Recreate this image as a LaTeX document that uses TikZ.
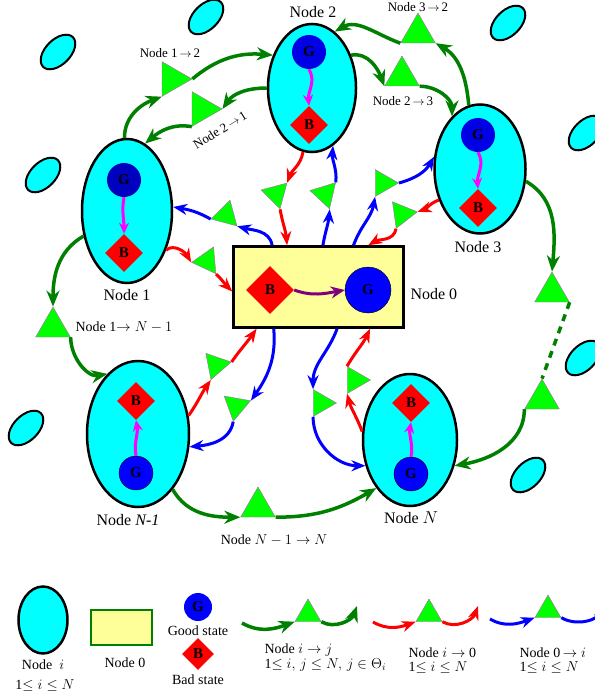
\documentclass[tikz,border=0pt]{standalone}
\usepackage{fontspec}
\setmainfont{Liberation Serif}
\usepackage{amssymb}
\usepackage{amsmath}
\usetikzlibrary{shapes.geometric}
\usetikzlibrary{arrows.meta}
\definecolor{aqua}{RGB}{0,255,255}
\definecolor{pink}{RGB}{255,0,255}
\definecolor{lime}{RGB}{0,255,0}
\definecolor{darkgreen}{RGB}{0,128,0}
\definecolor{paleyellow}{RGB}{255,255,153}

\begin{document}
\begin{tikzpicture}[x=1pt, y=1pt,
  blob/.style={ellipse, fill=aqua, draw=black, line width=2pt, minimum width=42pt, minimum height=25pt, inner sep=0pt, rotate=45},
  pc/.style={ellipse, fill=aqua, draw=black, line width=2.5pt, inner sep=0pt},
  good/.style={circle, fill=blue, inner sep=0pt, minimum size=34pt, font=\fontsize{15}{15}\selectfont\bfseries},
  bad/.style={diamond, fill=red, inner sep=0pt, minimum size=38pt, font=\fontsize{15}{15}\selectfont\bfseries},
  tri/.style={regular polygon, regular polygon sides=3, fill=lime, draw=violet!60, line width=0.4pt, inner sep=0pt, minimum size=40pt},
  stri/.style={tri, minimum size=31pt},
  gline/.style={draw=darkgreen, line width=3.5pt, -{Stealth[length=16pt,width=13pt]}},
  rline/.style={draw=red, line width=3pt, -{Stealth[length=14pt,width=11pt]}},
  bline/.style={draw=blue, line width=3pt, -{Stealth[length=14pt,width=11pt]}},
  mline/.style={draw=pink, line width=3pt, -{Stealth[length=11pt,width=10pt]}},
  nlab/.style={font=\fontsize{16}{18}\selectfont},
  elab/.style={font=\fontsize{13}{15}\selectfont},
  leg/.style={font=\fontsize{14}{16}\selectfont}]

\useasboundingbox (0,0) rectangle (594,-698);

% background nodes
\node[blob] (e1) at (58,-52) {};
\node[blob] (e2) at (206,-17) {};
\node[blob] (e3) at (43,-175) {};
\node[blob] (e4) at (508,-23) {};
\node[blob] (e5) at (586,-133) {};
\node[blob] (e6) at (583,-358) {};
\node[blob] (e7) at (26,-428) {};
\node[blob] (e8) at (528,-475) {};

% nodes 1, 2, 3, N-1, N and 0
\node[pc, minimum width=90pt, minimum height=144pt] (n1) at (127,-211) {};
\node[pc, minimum width=88pt, minimum height=128pt] (n2) at (312,-88) {};
\node[pc, minimum width=91pt, minimum height=129pt] (n3) at (480,-169) {};
\node[pc, minimum width=102pt, minimum height=146pt] (nm) at (138,-434) {};
\node[pc, minimum width=94pt, minimum height=132pt] (nn) at (410,-440) {};
\node[draw=black, fill=paleyellow, line width=2.5pt, minimum width=170pt, minimum height=81pt] (n0) at (318.5,-287) {};

\node[good, fill=blue!75!black] (g1) at (124,-180) {G};
\node[bad] (b1) at (124,-253) {B};
\node[good, fill=blue!90!black] (g2) at (309,-52) {G};
\node[bad] (b2) at (309,-125) {B};
\node[good, fill=blue!90!black] (g3) at (478,-135) {G};
\node[bad] (b3) at (478,-208) {B};
\node[bad] (bm) at (136,-401) {B};
\node[good, draw=black, thin] (gm) at (136,-473) {G};
\node[bad] (bn) at (411,-403) {B};
\node[good, draw=black, thin] (gn) at (411,-474) {G};
\node[bad, minimum size=48pt] (b0) at (270,-290) {B};
\node[good, draw=black, thin, minimum size=46pt] (g0) at (368,-290) {G};

\draw[mline] (g1.south) to[out=-100,in=90] (b1.north);
\draw[mline] (g2.south) to[out=-60,in=95] (b2.north);
\draw[mline] (g3.south) to[out=-60,in=95] (b3.north);
\draw[mline] (gm.north) to[out=100,in=-80] (bm.south);
\draw[mline] (gn.north) to[out=80,in=-100] (bn.south);
\draw[draw=violet, line width=3pt, -{Stealth[length=14pt,width=12pt]}] (b0.east) to[out=-20,in=190] (g0.west);

\node[nlab] (l1) at (127,-295) {Node 1};
\node[nlab] (l2) at (313,-12) {Node 2};
\node[nlab] (l3) at (478,-247) {Node 3};
\node[nlab] (lm) at (128,-520) {Node \textit{N-1}};
\node[nlab] (ln) at (411,-518) {Node $N$};
\node[nlab, anchor=west] (l0) at (407,-294) {Node 0};

%%%%%%%%%%%% triangles
\node[tri, rotate=-90] (t12) at (172,-79) {};
\node[tri, rotate=-90] (t21) at (202,-109) {};
\node[tri] (t23) at (402,-76) {};
\node[tri] (t32) at (418,-33) {};
\node[tri] (t1m) at (53,-327) {};
\node[tri] (t3a) at (552,-292) {};
\node[tri] (t3b) at (542,-399) {};
\node[tri] (tmn) at (258,-507) {};
\node[stri, rotate=-15] (t01) at (226,-215) {};
\node[stri, rotate=-25] (t10) at (207,-261) {};
\node[stri, rotate=-45] (t20) at (276,-194) {};
\node[stri, rotate=-163] (t02) at (325,-194) {};
\node[stri, rotate=-90] (t03) at (383,-183) {};
\node[stri, rotate=-82] (t30) at (402,-214) {};
\node[stri, rotate=-79] (tm0) at (216,-365) {};
\node[stri, rotate=-70] (t0m) at (236,-406) {};
\node[stri, rotate=-90] (t0n) at (321,-403) {};
\node[stri, rotate=-90] (tn0) at (355,-380) {};

%%%%%%%%%%%% node i -> node j
\draw[gline] (n1.92) to[out=90,in=200] (t12.corner 3);
\draw[gline] (t12.corner 1) to[out=40,in=175] (n2.140);
\draw[gline] (n2.180) to[out=180,in=55] (t21.corner 1);
\draw[gline] (t21.corner 3) to[out=170,in=40] (n1.75);
\draw[gline] (n2.40) to[out=10,in=110] (t23.corner 2);
\draw[gline] (t23.corner 3) to[out=0,in=90] (n3.118);
\draw[gline] (n3.100) to[out=95,in=-30] (t32.corner 3);
\draw[gline] (t32.corner 2) to[out=160,in=30] (n2.68);
\draw[gline] (n3.-15) to[out=-30,in=85] (t3a.corner 1);
\draw[gline, -, dash pattern=on 7pt off 6pt] (t3a.corner 3) -- (t3b.corner 1);
\draw[gline] (t3b.corner 2) to[out=-90,in=10] (nn.-30);
\draw[gline] (n1.-150) to[out=210,in=90] (t1m.corner 1);
\draw[gline] (t1m.corner 3) to[out=-90,in=190] (nm.117);
\draw[gline] (nm.-58) to[out=-60,in=180] (tmn.corner 2);
\draw[gline] (tmn.corner 3) to[out=0,in=210] (nn.-125);

%%%%%%%%%%%% node i <-> node 0
\draw[rline] (n1.-45) to[out=40,in=120] (t10.corner 2);
\draw[rline] (t10.corner 3) to[out=-45,in=135] (n0.183);
\draw[bline] (n0.138) to[out=100,in=-15] (t01.corner 3);
\draw[bline] (t01.corner 2) to[out=150,in=-10] (n1.5);
\draw[rline] (n2.-98) to[out=-100,in=70] (t20.corner 1);
\draw[rline] (t20.corner 3) to[out=-80,in=95] (n0.127);
\draw[bline] (n0.84) to[out=80,in=-95] (t02.corner 1);
\draw[bline] (t02.corner 2) to[out=85,in=-95] (n2.-70);
\draw[bline] (n0.50) to[out=70,in=-100] (t03.corner 3);
\draw[bline] (t03.corner 1) to[out=15,in=240] (n3.165);
\draw[rline] (n3.-143) to[out=200,in=20] (t30.corner 1);
\draw[rline] (t30.corner 3) to[out=-100,in=30] (n0.40);
\draw[rline] (nm.20) to[out=55,in=235] (tm0.corner 3);
\draw[rline] (tm0.corner 1) to[out=55,in=235] (n0.-146);
\draw[bline] (n0.-137) to[out=-85,in=55] (t0m.corner 1);
\draw[bline] (t0m.corner 3) to[out=-100,in=5] (nm.-14);
\draw[bline] (n0.-66) to[out=-110,in=90] (t0n.corner 2);
\draw[bline] (t0n.corner 3) to[out=-90,in=180] (nn.-150);
\draw[rline] (nn.170) to[out=110,in=-75] (tn0.corner 3);
\draw[rline] (tn0.corner 2) to[out=60,in=245] (n0.-39);

\node[elab] (l12) at (170,-53) {Node 1$\,\rightarrow\,$2};
\node[elab, rotate=32] (l21) at (220,-130) {Node 2$\,\rightarrow\,$1};
\node[elab] (l23) at (403,-101) {Node 2$\,\rightarrow\,$3};
\node[elab] (l32) at (418,-7) {Node 3$\,\rightarrow\,$2};
\node[leg, anchor=west] (l1m) at (72,-327) {Node 1$\rightarrow N-1$};
\node[leg] (lmn) at (274,-540) {Node $N-1\rightarrow N$};

%%%%%%%%%%%% legend
\node[pc, minimum width=49pt, minimum height=67pt] (k1) at (43,-620) {};
\node[leg] (k1a) at (43,-665) {Node\ \ $i$};
\node[leg] (k1b) at (45,-686) {1$\le i\le N$};
\node[draw=darkgreen, fill=paleyellow, line width=2.5pt, minimum width=61pt, minimum height=35pt] (k0) at (121.5,-627.5) {};
\node[leg] (k0a) at (125,-663) {Node 0};
\node[good, minimum size=28pt] (kg) at (198,-607) {G};
\node[leg] (kga) at (198,-631) {Good state};
\node[bad, minimum size=32pt] (kb) at (198,-654) {B};
\node[leg] (kba) at (198,-680) {Bad state};

\node[tri, minimum size=30pt] (kt1) at (308,-614) {};
\coordinate (ka1) at (242,-623);
\coordinate (kb1) at (357,-606);
\draw[gline] (ka1) to[out=-30,in=200] (kt1.corner 2);
\draw[gline] (kt1.corner 3) to[out=-30,in=-110] (kb1);
\node[leg, anchor=west] (kt1a) at (261,-650) {Node $i\rightarrow j$};
\node[leg, anchor=west] (kt1b) at (261,-665) {1$\le i,\,j\le N,\,j\in\Theta_i$};

\node[tri, minimum size=30pt] (kt2) at (429,-614) {};
\coordinate (ka2) at (373,-622);
\coordinate (kb2) at (478,-606);
\draw[rline] (ka2) to[out=-30,in=200] (kt2.corner 2);
\draw[rline] (kt2.corner 3) to[out=-30,in=-110] (kb2);
\node[leg, anchor=west] (kt2a) at (405,-653) {Node $i\rightarrow$ 0};
\node[leg, anchor=west] (kt2b) at (405,-668) {1$\le i\le N$};

\node[tri, minimum size=30pt] (kt3) at (548,-610) {};
\coordinate (ka3) at (490,-619);
\coordinate (kb3) at (604,-604);
\draw[bline] (ka3) to[out=-30,in=200] (kt3.corner 2);
\draw[bline] (kt3.corner 3) to[out=-30,in=-110] (kb3);
\node[leg, anchor=west] (kt3a) at (516,-653) {Node 0$\,\rightarrow i$};
\node[leg, anchor=west] (kt3b) at (516,-668) {1$\le i\le N$};
\end{tikzpicture}
\end{document}
